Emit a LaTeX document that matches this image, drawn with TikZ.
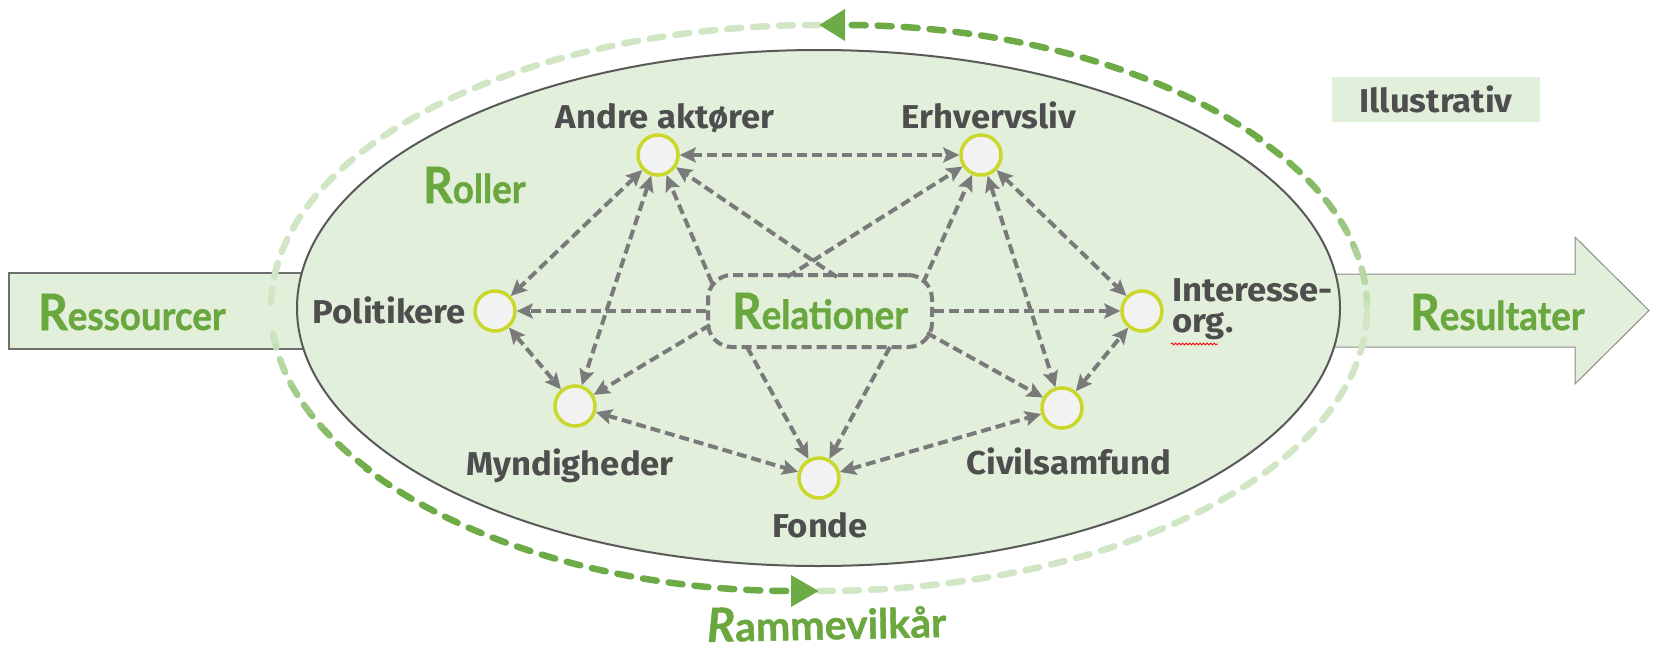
\documentclass[tikz,border=0pt]{standalone}
\usepackage{fontspec}
\setmainfont{Fira Sans}
\newfontfamily\grayfont{Fira Sans}[FakeStretch=1.05]
\newfontfamily\greenfont{Lato}[FakeStretch=0.92, FakeBold=1]
\newfontfamily\rammfont{Lato}[FakeBold=1]
\usetikzlibrary{arrows.meta,calc,decorations.pathmorphing}
\definecolor{txtgray}{HTML}{4E4E4E}
\definecolor{greentxt}{HTML}{6AA83F}
\definecolor{ellfill}{HTML}{E2EFDA}
\definecolor{elldraw}{HTML}{595959}
\definecolor{rectdraw}{HTML}{6F6F6F}
\definecolor{arrowdraw}{HTML}{8C8C8C}
\definecolor{circfill}{HTML}{F2F2F2}
\definecolor{ringc}{HTML}{CAD82B}
\definecolor{conngray}{HTML}{7A7A7A}
\definecolor{arcdark}{HTML}{6DAB47}
\definecolor{arclight}{HTML}{D0E6C5}
\newcommand\myR{{\fontsize{50}{50}\selectfont R}}
\newcommand\myRR{{\fontsize{47}{47}\selectfont\itshape R}}
\begin{document}
\begin{tikzpicture}[x=1pt,y=-1pt,
  actor/.style={circle, draw=ringc, fill=circfill, line width=3.5pt, minimum size=40pt, inner sep=0},
  lab/.style={font=\grayfont\bfseries\fontsize{33}{38}\selectfont, text=txtgray, inner sep=0},
  gtext/.style={font=\greenfont\bfseries\fontsize{40}{48}\selectfont, text=greentxt, inner sep=0},
  conn/.style={draw=conngray, line width=4pt, dash pattern=on 10pt off 5pt},
  tip/.style={},
  bi/.style={conn, {Stealth[length=16pt,width=15pt,inset=3pt]}-{Stealth[length=16pt,width=15pt,inset=3pt]}},
  uni/.style={conn, -{Stealth[length=16pt,width=15pt,inset=3pt]}},
  outerarc/.style={line width=6.5pt, line cap=round, dash pattern=on 14pt off 12pt},
  relbox/.style={draw=conngray, line width=4pt, dash pattern=on 10pt off 5pt, rounded corners=24pt,
    minimum width=224pt, minimum height=72pt, inner sep=0, font=\greenfont\bfseries\fontsize{40}{48}\selectfont, text=greentxt}
]
\useasboundingbox (0,0) rectangle (1658,659);
\fill[white] (0,0) rectangle (1658,659);

% big input / output arrows
\draw[fill=ellfill, draw=rectdraw, line width=1.5pt] (9,273) rectangle (330,349);
\draw[fill=ellfill, draw=arrowdraw, line width=1pt]
  (1300,274) -- (1575,274) -- (1575,237) -- (1649,310.5) -- (1575,384) -- (1575,347) -- (1300,347) -- cycle;

% main ellipse
\draw[fill=ellfill, draw=elldraw, line width=2pt] (818.5,308) ellipse [x radius=521.5, y radius=258];

% outer dashed cycle: light parts
\draw[outerarc, draw=arclight] (819,25) arc[start angle=270, end angle=180, x radius=548, y radius=283];
\draw[outerarc, draw=arclight] (819,591) arc[start angle=90, end angle=0, x radius=548, y radius=283];
% upper dark arc with fade
\begin{scope}
  \clip (0,0) rectangle (1658,140);
  \draw[outerarc, draw=arcdark, -{Triangle[length=26pt,width=30pt]}] (1367,308) arc[start angle=0, end angle=-90, x radius=548, y radius=283];
\end{scope}
\foreach \i in {0,...,9}{
  \pgfmathsetmacro\ya{140+18*\i}
  \pgfmathtruncatemacro\pc{95-10*\i}
  \colorlet{bandc}{arcdark!\pc!arclight}
  \begin{scope}
    \clip (0,\ya) rectangle (1658,\ya+18);
    \draw[outerarc, draw=bandc] (1367,308) arc[start angle=0, end angle=-90, x radius=548, y radius=283];
  \end{scope}
}
% lower dark arc with fade
\begin{scope}
  \clip (0,470) rectangle (1658,659);
  \draw[outerarc, draw=arcdark, -{Triangle[length=28pt,width=30pt]}] (271,308) arc[start angle=180, end angle=90, x radius=548, y radius=283];
\end{scope}
\foreach \i in {0,...,9}{
  \pgfmathsetmacro\ya{330+14*\i}
  \pgfmathtruncatemacro\pc{5+10*\i}
  \colorlet{bandc}{arcdark!\pc!arclight}
  \begin{scope}
    \clip (0,\ya) rectangle (1658,\ya+14);
    \draw[outerarc, draw=bandc] (271,308) arc[start angle=180, end angle=90, x radius=548, y radius=283];
  \end{scope}
}

% Illustrativ
\node[fill=ellfill, minimum width=208pt, minimum height=45pt, inner sep=0, lab] (ill) at (1436,99.5) {Illustrativ};

% actors
\node[actor] (and) at (658,155) {};
\node[actor] (erh) at (981,155) {};
\node[actor] (pol) at (495,311) {};
\node[actor] (int) at (1142,311) {};
\node[actor] (myn) at (575,406) {};
\node[actor] (fon) at (819,478) {};
\node[actor] (civ) at (1062,408) {};

% relations box
\node[relbox] (rel) at (820,311) {\myR elationer};
\coordinate (rA1) at ($(rel.center)+(-108,-28)$);
\coordinate (rA2) at ($(rel.center)+(17,-34)$);
\coordinate (rE1) at ($(rel.center)+(-33,-34)$);
\coordinate (rE2) at ($(rel.center)+(103,-28)$);
\coordinate (rM)  at ($(rel.center)+(-110,14)$);
\coordinate (rF1) at ($(rel.center)+(-73,36)$);
\coordinate (rF2) at ($(rel.center)+(70,36)$);
\coordinate (rC)  at ($(rel.center)+(107,22)$);

% connectors between actors
\draw[bi] (and) -- (erh);
\draw[bi] (and) -- (pol);
\draw[bi] (and) -- (myn);
\draw[bi] (pol) -- (myn);
\draw[bi] (myn) -- (fon);
\draw[bi] (fon) -- (civ);
\draw[bi] (civ) -- (int);
\draw[bi] (erh) -- (int);
\draw[bi] (erh) -- (civ);
% connectors from relations
\draw[uni] (rel.west) -- (pol);
\draw[uni] (rel.east) -- (int);
\draw[uni] (rA1) -- (and);
\draw[uni] (rA2) -- (and);
\draw[uni] (rE1) -- (erh);
\draw[uni] (rE2) -- (erh);
\draw[uni] (rM) -- (myn);
\draw[uni] (rF1) -- (fon);
\draw[uni] (rF2) -- (fon);
\draw[uni] (rC) -- (civ);

% actor labels
\node[lab, anchor=base] (tAnd) at (665,128) {Andre aktører};
\node[lab, anchor=base] (tErh) at (989,128) {Erhvervsliv};
\node[lab, anchor=base east] (tPol) at (466,323) {Politikere};
\node[lab, anchor=base west] (tInt) at (1172,301) {Interesse-};
\node[lab, anchor=base west] (tOrg) at (1172,332) {org.};
\draw[red, line width=0.8pt, decorate, decoration={snake, amplitude=1pt, segment length=3.5pt}] (1171,344) -- (1218,344);
\node[lab, anchor=base] (tMyn) at (570,475) {Myndigheder};
\node[lab, anchor=base] (tFon) at (820,537) {Fonde};
\node[lab, anchor=base] (tCiv) at (1069,474) {Civilsamfund};

% green headings
\node[gtext, anchor=base west] (tRes) at (38,330) {\myR essourcer};
\node[gtext, anchor=base west] (tRol) at (423,203) {\myR oller};
\node[gtext, anchor=base west] (tRsl) at (1410,330) {\myR esultater};
\node[gtext, anchor=base west, rotate=1.2, font=\rammfont\bfseries\fontsize{41}{48}\selectfont] (tRam) at (707,642) {\myRR ammevilkår};
\end{tikzpicture}
\end{document}
